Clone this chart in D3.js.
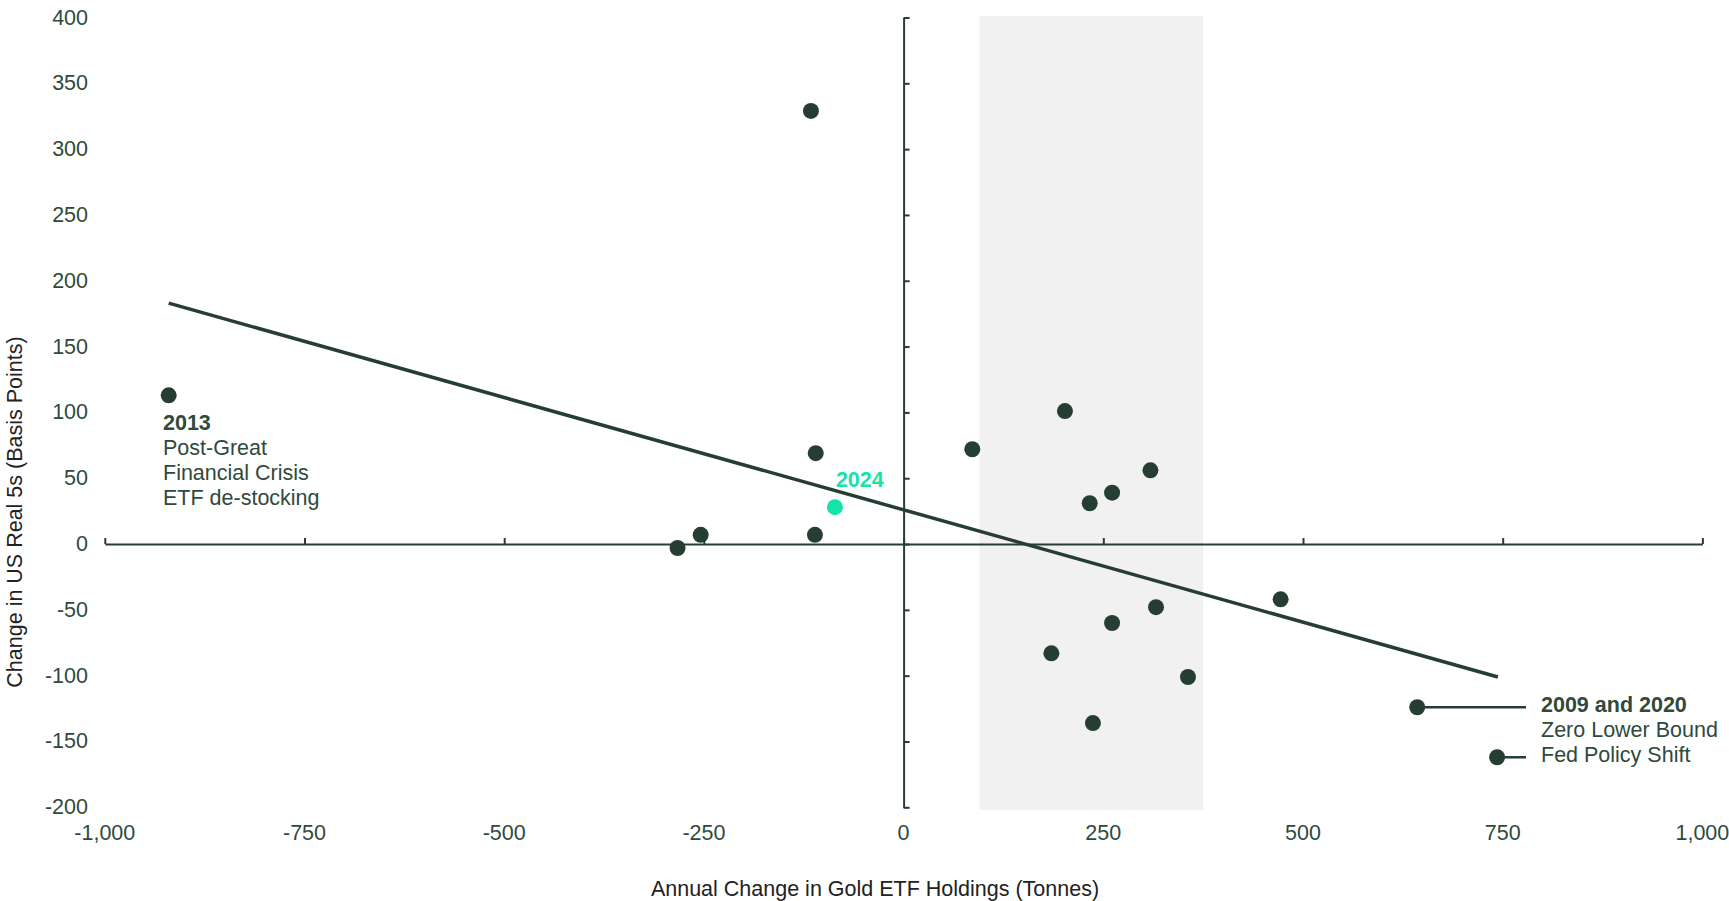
<!DOCTYPE html>
<html>
<head>
<meta charset="utf-8">
<script src="https://cdn.jsdelivr.net/npm/d3@7"></script>
<style>
  html, body { margin: 0; padding: 0; background: #ffffff; }
  svg { display: block; font-family: "Liberation Sans", Arial, sans-serif; }
</style>
</head>
<body>
<svg id="chart" width="1729" height="901"></svg>
<script>
// ---- data ----
const etfChange = [-920, -116, -110, -111, -254, -283, 86, 202, 309, 261, 233, 472, 316, 261, 185, 356, 237, 643, 743];
const realYieldChange = [113, 329, 69, 7, 7, -3, 72, 101, 56, 39, 31, -42, -48, -60, -83, -101, -136, -124, -162];
const highlightX = [-86];
const highlightY = [28];
const highlightLabel = ["2024"];
const trendX = [-920, 744];
const trendY = [183, -101];
const bandX = [95, 375];
const xTicks = [-1000, -750, -500, -250, 0, 250, 500, 750, 1000];
const yTicks = [-200, -150, -100, -50, 0, 50, 100, 150, 200, 250, 300, 350, 400];
const note2013 = ["2013", "Post-Great", "Financial Crisis", "ETF de-stocking"];
const note2009 = ["2009 and 2020", "Zero Lower Bound", "Fed Policy Shift"];
const xTitle = "Annual Change in Gold ETF Holdings (Tonnes)";
const yTitle = "Change in US Real 5s (Basis Points)";

// ---- styles ----
const dark = "#263e32";
const textCol = "#2f4a3c";
const teal = "#14e3ac";
const fs = 21.5;

const svg = d3.select("#chart");
const x = d3.scaleLinear().domain([-1000, 1000]).range([104.8, 1702.4]);
const y = d3.scaleLinear().domain([-200, 400]).range([807.3, 17.5]);
const fmt = d3.format(",");

// shaded band
svg.append("rect")
  .attr("x", x(bandX[0])).attr("width", x(bandX[1]) - x(bandX[0]))
  .attr("y", y(401)).attr("height", y(-202) - y(401))
  .attr("fill", "#f1f1f1");

// x axis (at y=0), ticks point up
const xAxis = svg.append("g").attr("transform", `translate(0,${y(0)})`)
  .call(d3.axisTop(x).tickValues(xTicks).tickSize(6).tickSizeOuter(0).tickFormat(""));
xAxis.select(".domain").attr("stroke", dark).attr("stroke-width", 2);
xAxis.selectAll(".tick line").attr("stroke", dark).attr("stroke-width", 2);

// y axis (at x=0), ticks point right
const yAxis = svg.append("g").attr("transform", `translate(${x(0)},0)`)
  .call(d3.axisRight(y).tickValues(yTicks).tickSize(6).tickSizeOuter(0).tickFormat(""));
yAxis.select(".domain").attr("stroke", dark).attr("stroke-width", 2);
yAxis.selectAll(".tick line").attr("stroke", dark).attr("stroke-width", 2);

// tick labels
svg.append("g").selectAll("text").data(xTicks).join("text")
  .attr("x", d => x(d)).attr("y", 833)
  .attr("text-anchor", "middle").attr("dominant-baseline", "central")
  .attr("font-size", fs).attr("fill", textCol)
  .text(d => fmt(d).replace("−", "-"));
svg.append("g").selectAll("text").data(yTicks).join("text")
  .attr("x", 88).attr("y", d => y(d))
  .attr("text-anchor", "end").attr("dominant-baseline", "central")
  .attr("font-size", fs).attr("fill", textCol)
  .text(d => fmt(d).replace("−", "-"));

// axis titles
svg.append("text").attr("x", 875).attr("y", 889)
  .attr("text-anchor", "middle").attr("dominant-baseline", "central")
  .attr("font-size", fs).attr("fill", "#222")
  .text(xTitle);
svg.append("text")
  .attr("transform", `translate(15,512) rotate(-90)`)
  .attr("text-anchor", "middle").attr("dominant-baseline", "central")
  .attr("font-size", fs).attr("fill", "#222")
  .text(yTitle);

// trend line
svg.append("line")
  .attr("x1", x(trendX[0])).attr("y1", y(trendY[0]))
  .attr("x2", x(trendX[1])).attr("y2", y(trendY[1]))
  .attr("stroke", dark).attr("stroke-width", 3.5);

// annotation connectors for 2009 / 2020
const ann = [[etfChange[17], realYieldChange[17]], [etfChange[18], realYieldChange[18]]];
svg.append("g").selectAll("line").data(ann).join("line")
  .attr("x1", d => x(d[0])).attr("y1", d => y(d[1]))
  .attr("x2", 1526).attr("y2", d => y(d[1]))
  .attr("stroke", dark).attr("stroke-width", 2.5);

// points
svg.append("g").selectAll("circle").data(etfChange).join("circle")
  .attr("cx", d => x(d)).attr("cy", (d, i) => y(realYieldChange[i]))
  .attr("r", 8).attr("fill", dark);

// highlighted 2024
svg.append("g").selectAll("circle").data(highlightX).join("circle")
  .attr("cx", d => x(d)).attr("cy", (d, i) => y(highlightY[i]))
  .attr("r", 8).attr("fill", teal);
svg.append("g").selectAll("text").data(highlightLabel).join("text")
  .attr("x", (d, i) => x(highlightX[i]) + 1).attr("y", (d, i) => y(highlightY[i]) - 20)
  .attr("font-size", fs).attr("font-weight", "bold").attr("fill", teal)
  .text(d => d);

// 2013 note
svg.append("g").selectAll("text").data(note2013).join("text")
  .attr("x", 163).attr("y", (d, i) => 430 + i * 25)
  .attr("font-size", fs).attr("font-weight", (d, i) => i === 0 ? "bold" : "normal")
  .attr("fill", textCol).text(d => d);

// 2009 and 2020 note
svg.append("g").selectAll("text").data(note2009).join("text")
  .attr("x", 1541).attr("y", (d, i) => 712 + i * 25)
  .attr("font-size", fs).attr("font-weight", (d, i) => i === 0 ? "bold" : "normal")
  .attr("fill", textCol).text(d => d);
</script>
</body>
</html>
